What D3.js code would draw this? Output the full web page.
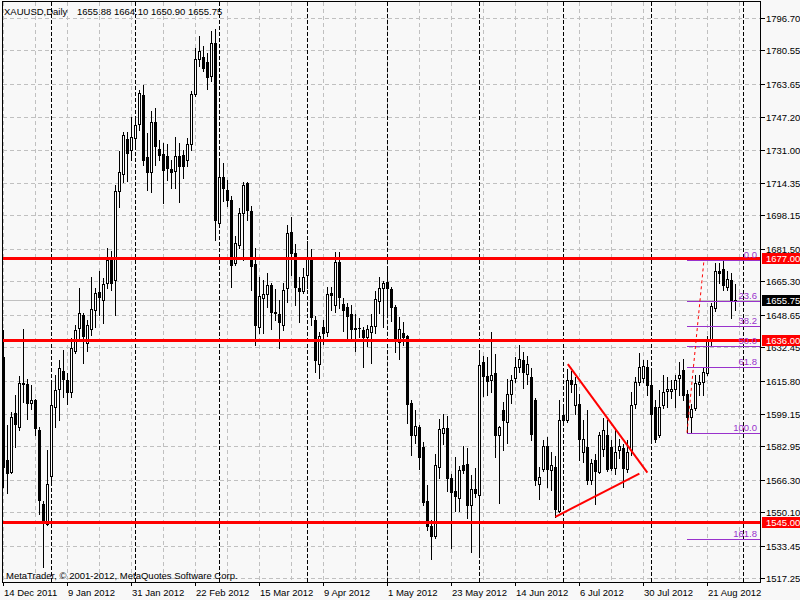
<!DOCTYPE html>
<html><head><meta charset="utf-8">
<script src="https://cdn.jsdelivr.net/npm/d3@7"></script>
<style>
html,body{margin:0;padding:0;background:#f8f8f8;}
svg{display:block;}
text{font-family:"Liberation Sans",Arial,sans-serif;font-size:9.5px;}
</style></head>
<body>
<script>
// ---------- data ----------
const symbol = "XAUUSD,Daily";
const headerValues = "1655.88 1664.10 1650.90 1655.75";
const copyright = "MetaTrader, © 2001-2012, MetaQuotes Software Corp.";

const opens = [1627.5,1576,1570.2,1599.7,1592.7,1614.3,1614.3,1604.7,1606,1591.3,1554.3,1544.3,1568,1602.7,1611.8,1620.5,1616.3,1610.2,1630.7,1641.8,
1648.5,1634.3,1641.3,1651,1660.2,1656,1664.3,1675.7,1666,1710.2,1718.8,1736.5,1731,1736.8,1743.8,1758.3,1727.3,1719.7,1744.8,1731.5,
1728.8,1728,1721.5,1720.2,1728,1728.5,1726,1734,1758.8,1776.3,1777.3,1774.7,1767.7,1784.3,1694.3,1717.3,1711,1706,1674.3,1683.5,
1699.3,1714.3,1700.2,1674,1642.7,1656.8,1659,1663.5,1650,1649,1643.5,1661.8,1689.8,1679.3,1661.8,1660.7,1668.5,1676,1646,1624,
1642.7,1640.2,1659.3,1653.5,1674.8,1654,1652.7,1649,1642.2,1641.8,1641,1637.7,1640.2,1643,1655.5,1662.2,1664.8,1661.5,1652.3,1635.2,
1639.3,1638,1604.8,1588.8,1592.7,1582.7,1555.7,1543,1538,1572.7,1589.7,1592.3,1567.2,1560.7,1557.3,1573.5,1574,1553.5,1561.8,1558.5,
1624.8,1618,1616,1619.3,1588.5,1601,1595.2,1609.3,1617,1622.7,1626,1619,1617.7,1606,1564,1571.8,1583,1571.3,1572.7,1550.7,
1598.5,1596,1616.3,1603.5,1604.3,1580.2,1582.7,1566,1576,1570.2,1581.8,1588.5,1582.7,1572.3,1581,1582,1571.8,1581,1604.3,1615.2,
1617,1622.7,1613.5,1602.7,1588.5,1603.5,1610.7,1610.7,1611.5,1617.2,1621,1609.3,1597.7,1602.3,1614,1615.2,1619.7,1636,1652.2,1670.2,
1671.3,1662.7,1666,1655.88];
const highs = [1641,1593.5,1600.2,1608.5,1618,1641.5,1616.5,1613.5,1606.5,1592.7,1555.5,1581,1614.3,1618.5,1626,1631,1619.3,1636.8,1643.5,1661.8,
1649.5,1646,1667.7,1661.8,1670.2,1666.8,1681.8,1680.2,1713.2,1730.5,1739.8,1739.8,1747.3,1746.8,1761,1763.5,1739.3,1750.2,1751.8,1736,
1734.3,1734,1726,1737.3,1734.3,1731,1736.8,1760.2,1781.8,1787.7,1782.7,1779.3,1790.2,1791,1726.8,1724.3,1716,1707.7,1687.7,1701.8,
1714.7,1714.8,1702.7,1681.8,1667.7,1666,1669.3,1664.3,1661.3,1656,1664.3,1693.5,1697.2,1684,1667.7,1671.8,1685.2,1681.3,1648,1640,
1646,1662.7,1662.7,1679.8,1679.8,1657,1654.5,1653.5,1649,1647,1642.3,1643.5,1649,1660.7,1667.3,1665.7,1672.7,1662.7,1653.5,1647.3,
1645.2,1638.5,1606,1601.3,1593.5,1585.2,1563.5,1546,1579.3,1596.8,1599,1598,1569.3,1577.7,1573,1583.2,1582,1568.8,1572.2,1630.7,
1628,1627.7,1640,1628.8,1593,1605.2,1616.8,1618.5,1627.7,1633.5,1630,1628,1621.8,1607,1572.7,1586,1587.7,1580.2,1578,1606.3,
1603,1621.3,1620.7,1617.7,1609.3,1596,1601,1576.8,1579.3,1590.2,1597.2,1596,1586,1591,1586.8,1584.3,1586,1610.2,1617.7,1629.3,
1626,1626,1620.2,1606,1611,1618.5,1617.7,1616,1618.5,1625.2,1626.7,1611.3,1604,1618.5,1618.5,1622.7,1638,1654.3,1674.3,1674.3,
1676.3,1670.2,1669.3,1664.10];
const lows = [1562.5,1559.5,1569.4,1582.7,1591,1605.2,1596.5,1601.7,1588.5,1549,1522.5,1543.5,1565.7,1592.5,1596,1607.7,1604.3,1607.7,1629.7,1636.8,
1624.7,1630.7,1638.5,1642.3,1648.5,1644.3,1661.8,1661,1648.5,1702.2,1714.8,1715.2,1726,1731.8,1741,1723.2,1710.7,1709.7,1723.5,1726,
1704.3,1716,1711.8,1711.8,1704.7,1716.8,1723,1730.7,1758,1772.7,1770.2,1761.3,1765.5,1686,1692.7,1705.2,1703,1662.7,1673.5,1681.8,
1676,1696,1661,1633.5,1639.5,1639.5,1652.7,1641.3,1646,1631.8,1641,1655.2,1668.5,1653.5,1645.2,1659.3,1661.8,1643.5,1620,1617,
1634,1638,1651.2,1650.2,1652,1640.7,1636.8,1636.3,1630.7,1637.7,1622.7,1633,1624.7,1639.3,1649.7,1642.7,1647.7,1645.7,1630.2,1626.3,
1633.5,1594.7,1578.5,1584.7,1571.8,1553.5,1541,1526.8,1537.3,1567.3,1584.3,1560.7,1532.3,1550.7,1550.7,1569.8,1547.3,1530.2,1557.5,1528,
1608,1608.5,1610,1577.7,1554.7,1581.3,1584.7,1604.7,1615,1620,1612,1614,1586,1563.5,1556.8,1570.7,1562.7,1561.3,1547.7,1550,
1593.5,1595,1610,1599.3,1576,1575.2,1564.3,1564.3,1554.3,1569.5,1578,1570.5,1571,1569.3,1577,1562.7,1570.2,1578.5,1602,1613.5,
1615,1608.5,1586.8,1585,1587.7,1602,1602.7,1607,1602.7,1608.5,1606,1589.7,1589.9,1601,1608.5,1608.5,1618.5,1633.5,1650.5,1664.3,
1661,1661,1646.8,1650.90];
const closes = [1572.5,1569.5,1597.7,1594,1614.8,1614.6,1604.7,1606.3,1592.3,1556,1545.2,1564,1603.5,1611.3,1621.8,1616.8,1610.2,1631.8,1641,1649.3,
1638,1643.3,1651.3,1659.3,1657.7,1664,1676,1664.3,1710.2,1719.8,1738.2,1729.3,1737.3,1743.3,1759.3,1725.7,1719.7,1744.8,1732.7,1728.5,
1721,1721.8,1719.7,1728,1722.7,1722.7,1733.8,1758.8,1776,1780.2,1771.8,1767.3,1784,1696,1717.3,1711.8,1706,1673.5,1684.3,1699.3,
1713.5,1700.7,1673,1643.5,1658,1659,1663.5,1650.2,1649.3,1645.2,1661,1689.3,1679.3,1662.7,1660.7,1667.3,1676.3,1647.7,1626,1638,
1639.3,1659,1658.5,1674.8,1657.3,1651,1648,1641.3,1641.7,1641.9,1637.7,1641.3,1643,1656.3,1661.8,1664.3,1661.8,1652.7,1636.3,1641.3,
1637.7,1604.3,1588.8,1593.2,1577.7,1555.2,1543,1538,1573.5,1591.8,1592.3,1567.2,1560.2,1558,1571.3,1571.3,1553.5,1561.8,1559.7,1623.5,
1618.2,1615.7,1618.5,1588.5,1592.7,1596,1609,1616,1622.7,1626.3,1620,1624,1589.3,1566,1567.7,1583,1571.8,1573.5,1551.8,1596.3,
1596,1616.3,1614.3,1614.3,1586.8,1586.8,1566,1574.7,1570.7,1588.5,1591,1571.8,1572.3,1580.2,1583,1572,1580.2,1603.5,1615.2,1622.7,
1623,1613.5,1599,1586.8,1602.7,1610.2,1611.5,1611.8,1616.3,1618.8,1608.5,1597.7,1601.8,1614.7,1615.2,1620.2,1636.3,1653,1670.2,1669.3,
1663.5,1666.3,1656,1655.75];

const dateLabels = ["14 Dec 2011","9 Jan 2012","31 Jan 2012","22 Feb 2012","15 Mar 2012","9 Apr 2012","1 May 2012","23 May 2012","14 Jun 2012","6 Jul 2012","30 Jul 2012","21 Aug 2012"];
const dateLabelBars = [0,16,32,48,64,80,96,112,128,144,160,176];
const monthStartBars = [12,33,54,76,96,119,140,162,185];
const priceTicks = [1796.70,1780.55,1763.65,1747.20,1731.00,1714.35,1698.15,1681.50,1665.30,1648.65,1632.45,1615.80,1599.15,1582.95,1566.30,1550.10,1533.45,1517.25];
const levelPrices = [1677.00,1636.00,1545.00];
const bidPrice = 1655.75;
const fibHigh = 1676.0, fibLow = 1589.8;
const fibStartBar = 171, fibEndBar = 175.25;
const fibLevels = [0,23.6,38.2,50,61.8,100,161.8];
const fibLabels = ["0.0","23.6","38.2","50.0","61.8","100.0","161.8"];
const triUpper = [[141.2,1624.0],[161.1,1569.8]];
const triLower = [[138.1,1547.8],[159.1,1569.3]];

// ---------- layout ----------
const W = 800, H = 600;
const L = 2.5, R = 760.5, T = 1.5, B = 582.5;
const x = d3.scaleLinear().domain([0,1]).range([3,7]);
const y = d3.scaleLinear().domain([1517.25,1796.70]).range([578,18]);
const RED = "#ff0000", PURPLE = "#9932cc", GRID = "#c0c0c0";

const svg = d3.select("body").append("svg").attr("width",W).attr("height",H)
  .style("shape-rendering","crispEdges");
svg.append("rect").attr("width",W).attr("height",H).attr("fill","#f8f8f8");

svg.append("defs").append("clipPath").attr("id","plot")
  .append("rect").attr("x",L).attr("y",T).attr("width",R-L).attr("height",B-T);
const plot = svg.append("g").attr("clip-path","url(#plot)");

// grid
const nVGrid = d3.range(0,185,8);
plot.selectAll(".vg").data(nVGrid).join("line")
  .attr("x1",d=>Math.round(x(d))+0.5).attr("x2",d=>Math.round(x(d))+0.5)
  .attr("y1",T).attr("y2",B).attr("stroke",GRID).attr("stroke-dasharray","4,3");
plot.selectAll(".hg").data(priceTicks).join("line")
  .attr("x1",L).attr("x2",R)
  .attr("y1",d=>Math.round(y(d))+0.5).attr("y2",d=>Math.round(y(d))+0.5)
  .attr("stroke",GRID).attr("stroke-dasharray","4,3");

// bid line
plot.append("line").attr("x1",L).attr("x2",R)
  .attr("y1",Math.round(y(bidPrice))+0.5).attr("y2",Math.round(y(bidPrice))+0.5)
  .attr("stroke",GRID);

// month separators
plot.selectAll(".sep").data(monthStartBars).join("line")
  .attr("x1",d=>Math.round(x(d))+0.5).attr("x2",d=>Math.round(x(d))+0.5)
  .attr("y1",T).attr("y2",B).attr("stroke","#000").attr("stroke-dasharray","4,2");

// candles
const bars = opens.map((o,i)=>({i,o,h:highs[i],l:lows[i],c:closes[i]}));
const cg = plot.append("g");
bars.forEach(b=>{
  const cx = Math.round(x(b.i));
  const yh = Math.round(y(b.h)), yl = Math.round(y(b.l));
  const top = Math.round(y(Math.max(b.o,b.c))), bot = Math.round(y(Math.min(b.o,b.c)));
  cg.append("rect").attr("x",cx).attr("y",yh).attr("width",1).attr("height",Math.max(1,yl-yh+1)).attr("fill","#000");
  cg.append("rect").attr("x",cx-1).attr("y",top).attr("width",3).attr("height",Math.max(1,bot-top+1)).attr("fill","#000");
  if (b.c > b.o && bot-top-1 > 0) {
    cg.append("rect").attr("x",cx).attr("y",top+1).attr("width",1).attr("height",bot-top-1).attr("fill","#fff");
  }
});

// horizontal red levels
plot.selectAll(".lvl").data(levelPrices).join("line")
  .attr("x1",L).attr("x2",R)
  .attr("y1",d=>Math.round(y(d))+0.5).attr("y2",d=>Math.round(y(d))+0.5)
  .attr("stroke",RED).attr("stroke-width",3);

// triangle trendlines
[triUpper,triLower].forEach(seg=>{
  plot.append("line")
    .attr("x1",x(seg[0][0])).attr("y1",y(seg[0][1]))
    .attr("x2",x(seg[1][0])).attr("y2",y(seg[1][1]))
    .attr("stroke",RED).attr("stroke-width",2).style("shape-rendering","auto");
});

// fibonacci
const fibPrice = lv => fibHigh - (fibHigh-fibLow)*lv/100;
fibLevels.forEach((lv,k)=>{
  const yy = Math.round(y(fibPrice(lv)))+0.5;
  plot.append("line").attr("x1",Math.round(x(fibStartBar))).attr("x2",R)
    .attr("y1",yy).attr("y2",yy).attr("stroke",PURPLE);
  plot.append("text").attr("x",757).attr("y",yy-2.5).attr("text-anchor","end")
    .attr("fill",PURPLE).text(fibLabels[k]);
});
plot.append("line")
  .attr("x1",x(fibStartBar)).attr("y1",y(fibLow))
  .attr("x2",x(fibEndBar)).attr("y2",y(fibHigh))
  .attr("stroke",RED).attr("stroke-dasharray","3,3").style("shape-rendering","auto");

// frame
svg.append("rect").attr("x",L).attr("y",T).attr("width",R-L).attr("height",B-T)
  .attr("fill","none").attr("stroke","#000");

// price axis
priceTicks.forEach(p=>{
  const yy = Math.round(y(p))+0.5;
  svg.append("line").attr("x1",R).attr("x2",R+4).attr("y1",yy).attr("y2",yy).attr("stroke","#000");
  svg.append("text").attr("x",766).attr("y",yy+3.5).attr("fill","#000").text(p.toFixed(2));
});
function priceBox(p,color){
  const yy = Math.round(y(p));
  svg.append("rect").attr("x",762).attr("y",yy-5).attr("width",38).attr("height",11).attr("fill",color);
  svg.append("text").attr("x",766).attr("y",yy+4).attr("fill","#fff").text(p.toFixed(2));
}
levelPrices.forEach(p=>priceBox(p,RED));
priceBox(bidPrice,"#000");

// time axis
dateLabelBars.forEach((bi,k)=>{
  const xx = Math.round(x(bi))+0.5;
  svg.append("line").attr("x1",xx).attr("x2",xx).attr("y1",B).attr("y2",B+3).attr("stroke","#000");
  svg.append("text").attr("x",xx+0.5).attr("y",595.5).attr("fill","#000").text(dateLabels[k]);
});

// header & copyright
svg.append("text").attr("x",4).attr("y",14.5).attr("fill","#000").text(symbol);
svg.append("text").attr("x",77).attr("y",14.5).attr("fill","#000").text(headerValues);
svg.append("text").attr("x",6).attr("y",579).attr("fill","#000").text(copyright);
</script>
</body></html>
